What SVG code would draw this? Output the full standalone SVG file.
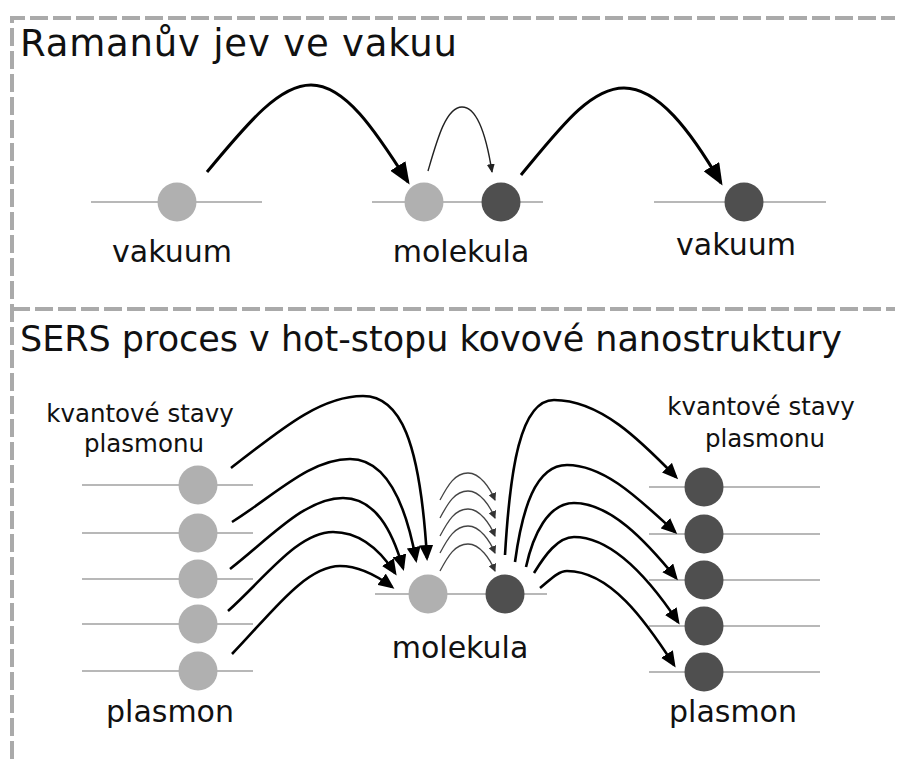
<svg xmlns="http://www.w3.org/2000/svg" width="897" height="759" viewBox="0 0 897 759">
<style>
.frame{stroke:#aaaaaa;stroke-width:4;stroke-dasharray:18 5;fill:none}
.lvl{stroke:#b8b8b8;stroke-width:2;fill:none}
.lt{fill:#b0b0b0}
.dk{fill:#4f4f4f}
text{font-family:"DejaVu Sans","Verdana",sans-serif;fill:#111}
.t1{font-size:37px}
.t2{font-size:35px}
.lab{font-size:30px;text-anchor:middle}
.sm{font-size:24.5px;text-anchor:middle}
.big{stroke:#000;stroke-width:3;fill:none;marker-end:url(#hb)}
.mid{stroke:#000;stroke-width:2.6;fill:none;marker-end:url(#hm)}
.thin{stroke:#222;stroke-width:1.4;fill:none;marker-end:url(#ht)}
.thin2{stroke:#444;stroke-width:1.3;fill:none;marker-end:url(#ht2)}
</style>
<defs>
<marker id="hb" markerUnits="userSpaceOnUse" markerWidth="22" markerHeight="18" viewBox="0 0 22 18" refX="19" refY="9" orient="auto"><path d="M0,0 L22,9 L0,18 Z" fill="#000"/></marker>
<marker id="hm" markerUnits="userSpaceOnUse" markerWidth="16" markerHeight="14" viewBox="0 0 16 14" refX="13" refY="7" orient="auto"><path d="M0,0 L16,7 L0,14 Z" fill="#000"/></marker>
<marker id="ht" markerUnits="userSpaceOnUse" markerWidth="9" markerHeight="8" viewBox="0 0 9 8" refX="8" refY="4" orient="auto"><path d="M0,0 L9,4 L0,8 Z" fill="#222"/></marker>
<marker id="ht2" markerUnits="userSpaceOnUse" markerWidth="8" markerHeight="8" viewBox="0 0 8 8" refX="7" refY="4" orient="auto"><path d="M0,0 L8,4 L0,8 Z" fill="#333"/></marker>
</defs>
<rect width="897" height="759" fill="#fff"/>
<g id="frame">
<path class="frame" d="M12,759 L12,18 L895,18"/>
<path class="frame" d="M12,309 L895,309"/>
</g>
<g id="title-raman"><text class="t1" x="20" y="56" textLength="437" lengthAdjust="spacing">Ramanův jev ve vakuu</text></g>
<g id="title-sers"><text class="t2" x="20" y="351" textLength="822" lengthAdjust="spacing">SERS proces v hot-stopu kovové nanostruktury</text></g>

<g id="vakuum-left">
<line class="lvl" x1="91" y1="202" x2="262" y2="202"/>
<circle class="lt" cx="177" cy="202" r="19.5"/>
<text class="lab" x="172" y="262">vakuum</text>
</g>
<g id="molekula-top">
<line class="lvl" x1="372" y1="202" x2="543" y2="202"/>
<circle class="lt" cx="424" cy="202" r="19.5"/>
<circle class="dk" cx="501" cy="202" r="19.5"/>
<text class="lab" x="461" y="262">molekula</text>
</g>
<g id="vakuum-right">
<line class="lvl" x1="654" y1="202" x2="826" y2="202"/>
<circle class="dk" cx="744" cy="202" r="19.5"/>
<text class="lab" x="736" y="255">vakuum</text>
</g>

<g id="plasmon-left">
<text class="sm" x="140" y="422">kvantové stavy</text>
<text class="sm" x="144" y="452">plasmonu</text>
<line class="lvl" x1="82" y1="485" x2="253" y2="485"/>
<line class="lvl" x1="82" y1="533" x2="253" y2="533"/>
<line class="lvl" x1="82" y1="579" x2="253" y2="579"/>
<line class="lvl" x1="82" y1="624" x2="253" y2="624"/>
<line class="lvl" x1="82" y1="671" x2="253" y2="671"/>
<circle class="lt" cx="198" cy="485" r="19.5"/>
<circle class="lt" cx="198" cy="533" r="19.5"/>
<circle class="lt" cx="198" cy="579" r="19.5"/>
<circle class="lt" cx="198" cy="624" r="19.5"/>
<circle class="lt" cx="198" cy="671" r="19.5"/>
<text class="lab" x="170" y="722">plasmon</text>
</g>
<g id="molekula-bottom">
<line class="lvl" x1="375" y1="594" x2="547" y2="594"/>
<circle class="lt" cx="428" cy="594" r="19.5"/>
<circle class="dk" cx="505" cy="594" r="19.5"/>
<text class="lab" x="460" y="658">molekula</text>
</g>
<g id="plasmon-right">
<text class="sm" x="761" y="415">kvantové stavy</text>
<text class="sm" x="765" y="447">plasmonu</text>
<line class="lvl" x1="649" y1="487" x2="820" y2="487"/>
<line class="lvl" x1="649" y1="534" x2="820" y2="534"/>
<line class="lvl" x1="649" y1="580" x2="820" y2="580"/>
<line class="lvl" x1="649" y1="626" x2="820" y2="626"/>
<line class="lvl" x1="649" y1="672" x2="820" y2="672"/>
<circle class="dk" cx="704" cy="487" r="19.5"/>
<circle class="dk" cx="704" cy="534" r="19.5"/>
<circle class="dk" cx="704" cy="580" r="19.5"/>
<circle class="dk" cx="704" cy="626" r="19.5"/>
<circle class="dk" cx="704" cy="672" r="19.5"/>
<text class="lab" x="733" y="722">plasmon</text>
</g>

<g id="connectors">
<path class="big" d="M207,172 C250,120 280,85 311,85 C345,85 375,130 408,182"/>
<path class="thin" d="M428,171 C437,140 446,107 462,107 C478,107 487,140 492,172"/>
<path class="big" d="M521,175 C560,128 590,88 624,88 C658,88 690,130 721,183"/>

<path class="mid" d="M231,468 C280,430 320,396 363,396 C400,396 420,440 427,558"/>
<path class="mid" d="M232,522 C275,495 310,459 350,459 C385,459 405,500 416,560"/>
<path class="mid" d="M230,569 C270,538 305,498 343,498 C375,498 392,530 403,568"/>
<path class="mid" d="M228,611 C265,578 298,532 333,532 C362,532 382,553 395,573"/>
<path class="mid" d="M232,654 C270,615 305,566 340,566 C362,566 380,578 392,587"/>

<path class="thin2" d="M440,500 C448,485 455,473 468,473 C480,473 490,488 495,500"/>
<path class="thin2" d="M440,518 C448,503 455,491 468,491 C480,491 490,506 495,518"/>
<path class="thin2" d="M440,536 C448,521 455,509 468,509 C480,509 490,524 495,536"/>
<path class="thin2" d="M440,553 C448,538 455,526 468,526 C480,526 490,541 495,553"/>
<path class="thin2" d="M440,571 C448,556 455,544 468,544 C480,544 490,559 495,571"/>

<path class="mid" d="M505,555 C510,470 520,400 554,400 C600,400 640,440 676,477"/>
<path class="mid" d="M515,562 C522,510 535,465 567,465 C605,465 640,500 675,532"/>
<path class="mid" d="M526,567 C533,535 548,503 574,503 C610,503 645,540 676,578"/>
<path class="mid" d="M534,573 C545,555 558,537 574,537 C612,537 650,580 678,622"/>
<path class="mid" d="M540,588 C550,580 558,571 567,571 C610,571 645,620 674,665"/>
</g>
</svg>
